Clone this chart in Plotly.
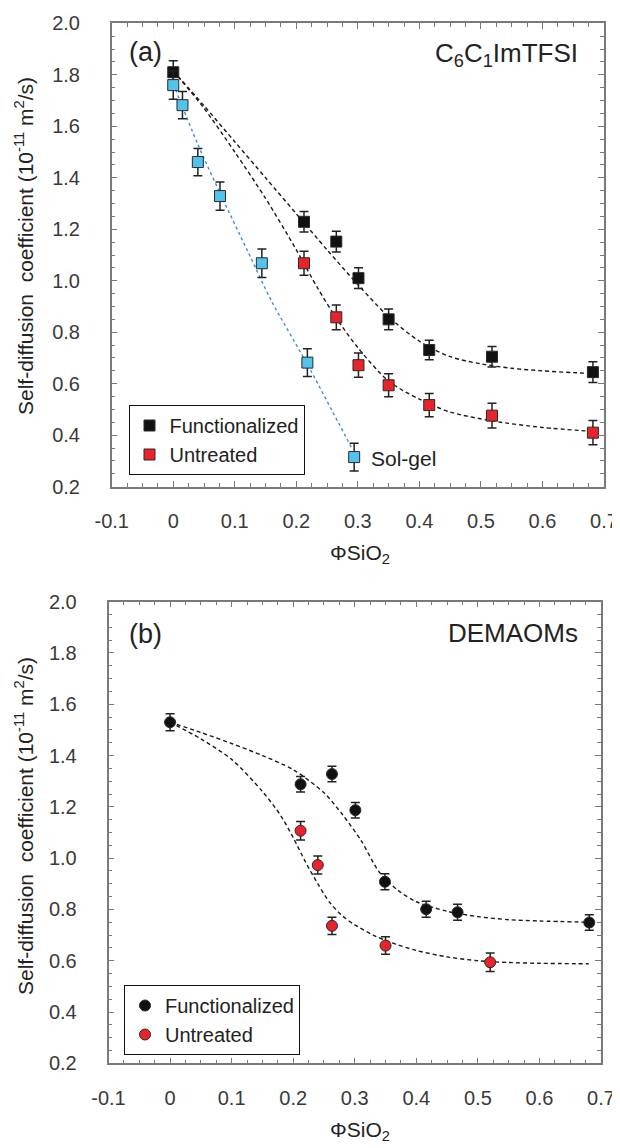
import plotly.graph_objects as go

# ---------------- Panel (a): C6C1ImTFSI ----------------
a_func_x = [0.0, 0.2125, 0.265, 0.301, 0.350, 0.416, 0.518, 0.682]
a_func_y = [1.81, 1.229, 1.152, 1.010, 0.850, 0.731, 0.705, 0.645]
a_func_err = [0.045, 0.04, 0.04, 0.04, 0.04, 0.038, 0.04, 0.04]

a_untr_x = [0.2125, 0.265, 0.301, 0.350, 0.416, 0.518, 0.682]
a_untr_y = [1.068, 0.858, 0.672, 0.594, 0.517, 0.476, 0.410]
a_untr_err = [0.047, 0.048, 0.047, 0.045, 0.045, 0.048, 0.047]

a_sol_x = [0.0, 0.015, 0.040, 0.076, 0.144, 0.218, 0.294]
a_sol_y = [1.760, 1.682, 1.461, 1.329, 1.068, 0.682, 0.315]
a_sol_err = [0.055, 0.053, 0.053, 0.055, 0.055, 0.054, 0.054]

# fitted guide curves
a_fit_func_x = [0, 0.05, 0.1, 0.15, 0.2, 0.25, 0.3, 0.35, 0.4, 0.45, 0.5, 0.55, 0.6, 0.65, 0.682]
a_fit_func_y = [1.815, 1.68, 1.54, 1.40, 1.26, 1.12, 0.985, 0.86, 0.765, 0.705, 0.677, 0.66, 0.65, 0.643, 0.64]
a_fit_untr_x = [0, 0.05, 0.1, 0.15, 0.2, 0.235, 0.265, 0.3, 0.35, 0.4, 0.45, 0.52, 0.6, 0.682]
a_fit_untr_y = [1.815, 1.67, 1.50, 1.32, 1.12, 0.97, 0.855, 0.74, 0.61, 0.54, 0.49, 0.455, 0.43, 0.415]
a_fit_sol_x = [0, 0.04, 0.08, 0.12, 0.16, 0.218, 0.29]
a_fit_sol_y = [1.765, 1.53, 1.32, 1.12, 0.92, 0.675, 0.35]

# ---------------- Panel (b): DEMAOMs ----------------
b_func_x = [0.0, 0.212, 0.263, 0.301, 0.349, 0.416, 0.467, 0.681]
b_func_y = [1.530, 1.288, 1.328, 1.187, 0.908, 0.801, 0.789, 0.749]
b_func_err = [0.033, 0.03, 0.03, 0.03, 0.031, 0.031, 0.031, 0.03]

b_untr_x = [0.212, 0.240, 0.263, 0.350, 0.520]
b_untr_y = [1.107, 0.973, 0.736, 0.659, 0.594]
b_untr_err = [0.036, 0.035, 0.034, 0.034, 0.036]

b_fit_func_x = [0, 0.05, 0.1, 0.15, 0.2, 0.25, 0.28, 0.31, 0.34, 0.37, 0.4, 0.45, 0.5, 0.55, 0.6, 0.68]
b_fit_func_y = [1.53, 1.49, 1.447, 1.40, 1.345, 1.255, 1.17, 1.07, 0.945, 0.875, 0.83, 0.793, 0.772, 0.76, 0.755, 0.75]
b_fit_untr_x = [0, 0.05, 0.1, 0.15, 0.18, 0.2, 0.22, 0.24, 0.26, 0.28, 0.3, 0.33, 0.36, 0.4, 0.45, 0.5, 0.55, 0.6, 0.68]
b_fit_untr_y = [1.53, 1.465, 1.385, 1.26, 1.165, 1.08, 0.985, 0.9, 0.825, 0.775, 0.74, 0.70, 0.67, 0.64, 0.615, 0.600, 0.593, 0.590, 0.588]

x_ticks = [-0.1, 0, 0.1, 0.2, 0.3, 0.4, 0.5, 0.6, 0.7]
x_tick_text = ["-0.1", "0", "0.1", "0.2", "0.3", "0.4", "0.5", "0.6", "0.7"]
y_ticks = [0.2, 0.4, 0.6, 0.8, 1.0, 1.2, 1.4, 1.6, 1.8, 2.0]
y_tick_text = ["0.2", "0.4", "0.6", "0.8", "1.0", "1.2", "1.4", "1.6", "1.8", "2.0"]

BLACK = "#111111"
RED = "#e8232a"
CYAN = "#52c3ec"
EDGE = "#2a2a2a"
FONT = "Liberation Sans, Arial, sans-serif"

fig = go.Figure()

def dashed(x, y, xa, ya, color="#1a1a1a", dash="4px,3px", width=1.4):
    fig.add_trace(go.Scatter(x=x, y=y, xaxis=xa, yaxis=ya, mode="lines",
                             line=dict(color=color, dash=dash, width=width, shape="spline", smoothing=0.8),
                             showlegend=False, hoverinfo="skip"))

def pts(x, y, err, xa, ya, color, symbol, name, legend, show, rank, size):
    fig.add_trace(go.Scatter(x=x, y=y, xaxis=xa, yaxis=ya, mode="markers", name=name,
                             marker=dict(color=color, symbol=symbol, size=size,
                                         line=dict(color=EDGE, width=1)),
                             error_y=dict(type="data", array=err, color="#222222", thickness=1.5, width=4.5),
                             showlegend=show, legend=legend, legendrank=rank))

# panel a
dashed(a_fit_func_x, a_fit_func_y, "x", "y")
dashed(a_fit_untr_x, a_fit_untr_y, "x", "y")
dashed(a_fit_sol_x, a_fit_sol_y, "x", "y", color="#3d8fdc", dash="3px,3px", width=1.4)
pts(a_untr_x, a_untr_y, a_untr_err, "x", "y", RED, "square", "Untreated", "legend", True, 2, 11)
pts(a_func_x, a_func_y, a_func_err, "x", "y", BLACK, "square", "Functionalized", "legend", True, 1, 11)
pts(a_sol_x, a_sol_y, a_sol_err, "x", "y", CYAN, "square", "Sol-gel", "legend", False, 3, 11)

# panel b
dashed(b_fit_func_x, b_fit_func_y, "x2", "y2")
dashed(b_fit_untr_x, b_fit_untr_y, "x2", "y2")
pts(b_untr_x, b_untr_y, b_untr_err, "x2", "y2", RED, "circle", "Untreated", "legend2", True, 2, 11)
pts(b_func_x, b_func_y, b_func_err, "x2", "y2", BLACK, "circle", "Functionalized", "legend2", True, 1, 11)

# page has an 8px body margin -> figure is 612x1140, offset by 8px
OFF = 8
W, H = 612, 1140
def px_x(p):
    return (p - OFF) / W
def px_y(p):
    return 1 - (p - OFF) / H

axis_common = dict(
    showline=True, linecolor="#7a7a7a", linewidth=1.5, mirror="allticks",
    ticks="inside", tickcolor="#7a7a7a", tickwidth=1.2, ticklen=6,
    showgrid=False, zeroline=False, automargin=False,
    tickfont=dict(family=FONT, size=20, color="#3a3a3a"),
)

xa = dict(axis_common, range=[-0.1, 0.7], tickmode="array", tickvals=x_ticks, ticktext=x_tick_text,
          minor=dict(tickmode="linear", dtick=0.025, tick0=0, ticks="inside", ticklen=4,
                     tickcolor="#7a7a7a", tickwidth=1),
          ticklabelstandoff=16)
ya = dict(axis_common, range=[0.2, 2.0], tickmode="array", tickvals=y_ticks, ticktext=y_tick_text,
          minor=dict(tickmode="linear", dtick=0.05, tick0=0, ticks="inside", ticklen=4,
                     tickcolor="#7a7a7a", tickwidth=1),
          ticklabelstandoff=26)

legend_common = dict(xanchor="left", yanchor="top", bordercolor="#111", borderwidth=1, bgcolor="white",
                     font=dict(family=FONT, size=20, color="#222"), tracegroupgap=0, itemwidth=30)

fig.update_layout(
    width=W, height=H, margin=dict(l=0, r=0, t=0, b=0),
    paper_bgcolor="white", plot_bgcolor="white",
    font=dict(family=FONT, color="#222"),
    xaxis=dict(xa, domain=[px_x(111.7), px_x(604)], anchor="y"),
    yaxis=dict(ya, domain=[px_y(486.7), px_y(23.3)], anchor="x"),
    xaxis2=dict(xa, domain=[px_x(108.5), px_x(601)], anchor="y2"),
    yaxis2=dict(ya, domain=[px_y(1063.3), px_y(601.7)], anchor="x2"),
    legend=dict(legend_common, x=px_x(128.5), y=px_y(405)),
    legend2=dict(legend_common, x=px_x(124), y=px_y(985)),
    showlegend=True,
)

def text(t, x, y, size, xanchor="center", angle=0, color="#222"):
    fig.add_annotation(text=t, x=px_x(x), y=px_y(y), xref="paper", yref="paper",
                       xanchor=xanchor, yanchor="middle", showarrow=False, textangle=angle,
                       font=dict(family=FONT, size=size, color=color))

ytitle = "Self-diffusion  coefficient (10<sup>-11</sup> m<sup>2</sup>/s)"
xtitle = "ΦSiO<sub>2</sub>"

# panel a texts
text("(a)", 127, 52, 27, xanchor="left")
text("C<sub>6</sub>C<sub>1</sub>ImTFSI", 580, 54, 26, xanchor="right")
text("Sol-gel", 369, 458, 21, xanchor="left")
text(ytitle, 24, 246, 21, angle=-90)
text(xtitle, 360, 554, 21)

# panel b texts
text("(b)", 127, 634, 27, xanchor="left")
text("DEMAOMs", 580, 633, 26, xanchor="right")
text(ytitle, 24, 826, 21, angle=-90)
text(xtitle, 360, 1131, 21)

fig.write_html("out.html")
